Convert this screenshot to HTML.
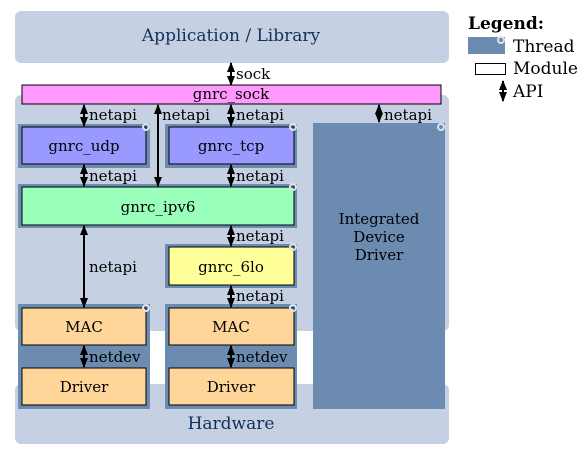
<!DOCTYPE html>
<html><head><style>body{margin:0;background:#fff}svg{display:block}text{font-family:"DejaVu Serif","Liberation Serif",serif;font-size:15px;fill:#000}</style></head><body>
<svg width="585" height="457" viewBox="0 0 585 457">
<defs>
<marker id="a" viewBox="0 0 10 10" refX="9" refY="5" markerWidth="5" markerHeight="5" orient="auto-start-reverse"><path d="M0,1 L10,5 L0,9 z" fill="#000"/></marker>
</defs>
<rect x="15" y="11" width="434" height="52" rx="6" fill="#c5d1e3"/>
<text x="231" y="41" text-anchor="middle" style="font-size:17px;fill:#12305a">Application / Library</text>
<rect x="15" y="95" width="434" height="236" rx="6" fill="#c5d1e3"/>
<rect x="15" y="384" width="434" height="60" rx="6" fill="#c5d1e3"/>
<text x="231" y="429" text-anchor="middle" style="font-size:17px;fill:#12305a">Hardware</text>
<rect x="22" y="85" width="419" height="19" fill="#ff99ff" stroke="#000" stroke-width="1"/>
<text x="231" y="99" text-anchor="middle">gnrc_sock</text>
<g fill="#6b8cb0">
<rect x="18" y="124" width="132" height="44"/>
<rect x="165" y="124" width="132" height="44"/>
<rect x="18" y="184" width="279" height="44"/>
<rect x="165" y="244" width="132" height="44"/>
<rect x="18" y="304" width="132" height="105"/>
<rect x="165" y="304" width="132" height="105"/>
<rect x="313" y="123" width="132" height="286"/>
</g>
<g stroke="#000" stroke-width="1">
<rect x="22" y="127" width="124" height="37" fill="#9999ff"/>
<rect x="169" y="127" width="125" height="37" fill="#9999ff"/>
<rect x="22" y="187" width="272" height="38" fill="#99ffbb"/>
<rect x="169" y="247" width="125" height="38" fill="#ffff99"/>
<rect x="22" y="308" width="124" height="37" fill="#ffd699"/>
<rect x="22" y="368" width="124" height="37" fill="#ffd699"/>
<rect x="169" y="308" width="125" height="37" fill="#ffd699"/>
<rect x="169" y="368" width="125" height="37" fill="#ffd699"/>
</g>
<g fill="none" stroke="#dde4ee" stroke-width="2">
<circle cx="146" cy="127" r="3"/><circle cx="293" cy="127" r="3"/><circle cx="293" cy="187" r="3"/><circle cx="293" cy="247" r="3"/><circle cx="146" cy="308" r="3"/><circle cx="293" cy="308" r="3"/><circle cx="441" cy="127" r="3"/>
</g>
<text x="84" y="151" text-anchor="middle">gnrc_udp</text>
<text x="231" y="151" text-anchor="middle">gnrc_tcp</text>
<text x="158" y="212" text-anchor="middle">gnrc_ipv6</text>
<text x="231" y="272" text-anchor="middle">gnrc_6lo</text>
<text x="84" y="332" text-anchor="middle">MAC</text>
<text x="231" y="332" text-anchor="middle">MAC</text>
<text x="84" y="392" text-anchor="middle">Driver</text>
<text x="231" y="392" text-anchor="middle">Driver</text>
<text x="379" y="224" text-anchor="middle">Integrated</text>
<text x="379" y="242" text-anchor="middle">Device</text>
<text x="379" y="260" text-anchor="middle">Driver</text>
<g stroke="#000" stroke-width="2" marker-start="url(#a)" marker-end="url(#a)">
<line x1="231" y1="63" x2="231" y2="85"/>
<line x1="84" y1="105" x2="84" y2="126"/>
<line x1="158" y1="105" x2="158" y2="186"/>
<line x1="231" y1="105" x2="231" y2="126"/>
<line x1="379" y1="105" x2="379" y2="122"/>
<line x1="84" y1="165" x2="84" y2="186"/>
<line x1="231" y1="165" x2="231" y2="186"/>
<line x1="84" y1="226" x2="84" y2="307"/>
<line x1="231" y1="226" x2="231" y2="246"/>
<line x1="231" y1="286" x2="231" y2="307"/>
<line x1="84" y1="346" x2="84" y2="367"/>
<line x1="231" y1="346" x2="231" y2="367"/>
<line x1="503" y1="81" x2="503" y2="101"/>
</g>
<text x="236" y="79">sock</text>
<text x="89" y="120">netapi</text>
<text x="162" y="120">netapi</text>
<text x="236" y="120">netapi</text>
<text x="384" y="120">netapi</text>
<text x="89" y="181">netapi</text>
<text x="236" y="181">netapi</text>
<text x="89" y="272">netapi</text>
<text x="236" y="241">netapi</text>
<text x="236" y="301">netapi</text>
<text x="89" y="362">netdev</text>
<text x="236" y="362">netdev</text>
<text x="468" y="29" style="font-weight:bold;font-size:17px">Legend:</text>
<rect x="468" y="37" width="37" height="17" fill="#6b8cb0"/>
<circle cx="501" cy="40" r="3" fill="none" stroke="#dde4ee" stroke-width="2"/>
<text x="513" y="52" style="font-size:17px">Thread</text>
<rect x="475.5" y="63.5" width="30" height="11" fill="#fff" stroke="#000"/>
<text x="513" y="74" style="font-size:17px">Module</text>
<text x="513" y="97" style="font-size:17px">API</text>
</svg>
</body></html>
